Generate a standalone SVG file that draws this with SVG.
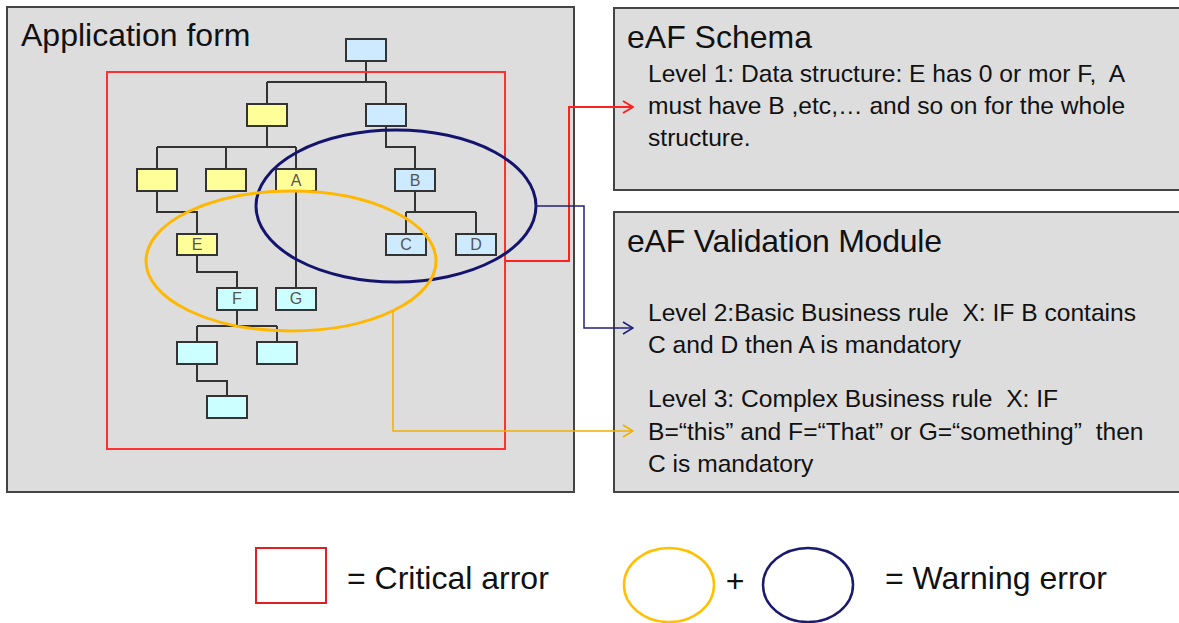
<svg xmlns="http://www.w3.org/2000/svg" width="1179" height="623" viewBox="0 0 1179 623">
<style>
text{white-space:pre}
.panel{fill:#dddddd;stroke:#444;stroke-width:2}
.title{font-family:"Liberation Sans",Arial,sans-serif;font-size:32px;fill:#111}
.body{font-family:"Liberation Sans",Arial,sans-serif;font-size:24.6px;fill:#111}
.nodeY{fill:#ffff99;stroke:#333;stroke-width:2}
.nodeB{fill:#cdeaff;stroke:#333;stroke-width:2}
.nodeC{fill:#ccffff;stroke:#333;stroke-width:2}
.lbl{font-family:"Liberation Sans",Arial,sans-serif;font-size:16px;fill:#555;text-anchor:middle}
.tree{fill:none;stroke:#333;stroke-width:2}
.legend{font-family:"Liberation Sans",Arial,sans-serif;font-size:32px;fill:#111}
</style>
<defs>
<marker id="arR" markerWidth="12" markerHeight="14" refX="11" refY="7" orient="auto" markerUnits="userSpaceOnUse"><path d="M1,1 L11,7 L1,13" fill="none" stroke="#ff2020" stroke-width="2"/></marker>
<marker id="arB" markerWidth="12" markerHeight="14" refX="11" refY="7" orient="auto" markerUnits="userSpaceOnUse"><path d="M1,1 L11,7 L1,13" fill="none" stroke="#20207a" stroke-width="1.6"/></marker>
<marker id="arY" markerWidth="12" markerHeight="14" refX="11" refY="7" orient="auto" markerUnits="userSpaceOnUse"><path d="M1,1 L11,7 L1,13" fill="none" stroke="#f0b000" stroke-width="1.6"/></marker>
</defs>
<rect width="1179" height="623" fill="#ffffff"/>

<g id="application-form">
<rect class="panel" x="7" y="7" width="567" height="485"/>
<text class="title" x="21" y="46">Application form</text>
</g>

<g id="eaf-schema">
<rect class="panel" x="614" y="8" width="580" height="182"/>
<text class="title" x="627" y="48">eAF Schema</text>
<text class="body" x="648" y="82">Level 1: Data structure: E has 0 or mor F,  A</text>
<text class="body" x="648" y="114">must have B ,etc,… and so on for the whole</text>
<text class="body" x="648" y="146">structure.</text>
</g>

<g id="eaf-validation">
<rect class="panel" x="614" y="212" width="580" height="280"/>
<text class="title" x="627" y="252" textLength="315">eAF Validation Module</text>
<text class="body" x="648" y="321">Level 2:Basic Business rule  X: IF B contains</text>
<text class="body" x="648" y="353">C and D then A is mandatory</text>
<text class="body" x="648" y="407">Level 3: Complex Business rule  X: IF</text>
<text class="body" x="648" y="440">B=“this” and F=“That” or G=“something”  then</text>
<text class="body" x="648" y="472">C is mandatory</text>
</g>

<g id="tree-lines">
<path class="tree" d="M366,61 V82 M267,82 H386 M267,82 V104 M386,82 V104"/>
<path class="tree" d="M267,126 V147 M157,147 H296 M157,147 V169 M226,147 V169 M296,147 V169"/>
<path class="tree" d="M386,126 V147 H415 V169"/>
<path class="tree" d="M415,191 V212 M406,212 H476 M406,212 V234 M476,212 V234"/>
<path class="tree" d="M157,191 V212 H197 V234"/>
<path class="tree" d="M296,191 V288"/>
<path class="tree" d="M197,255 V272 H237 V288"/>
<path class="tree" d="M237,310 V326 M197,326 H277 M197,326 V342 M277,326 V342"/>
<path class="tree" d="M197,364 V381 H227 V396"/>
</g>

<g id="node-root"><rect class="nodeB" x="346" y="39" width="40" height="22"/></g>
<g id="node-y1"><rect class="nodeY" x="247" y="104" width="40" height="22"/></g>
<g id="node-b1"><rect class="nodeB" x="366" y="104" width="40" height="22"/></g>
<g id="node-y2"><rect class="nodeY" x="137" y="169" width="40" height="22"/></g>
<g id="node-y3"><rect class="nodeY" x="206" y="169" width="40" height="22"/></g>
<g id="node-A"><rect class="nodeY" x="276" y="169" width="40" height="22"/><text class="lbl" x="296" y="186">A</text></g>
<g id="node-B"><rect class="nodeB" x="395" y="169" width="40" height="22"/><text class="lbl" x="415" y="186">B</text></g>
<g id="node-C"><rect class="nodeB" x="386" y="234" width="40" height="21"/><text class="lbl" x="406" y="250">C</text></g>
<g id="node-D"><rect class="nodeB" x="456" y="234" width="40" height="21"/><text class="lbl" x="476" y="250">D</text></g>
<g id="node-E"><rect class="nodeY" x="177" y="234" width="40" height="21"/><text class="lbl" x="197" y="250">E</text></g>
<g id="node-F"><rect class="nodeC" x="217" y="288" width="40" height="22"/><text class="lbl" x="237" y="304">F</text></g>
<g id="node-G"><rect class="nodeC" x="276" y="288" width="40" height="22"/><text class="lbl" x="296" y="304">G</text></g>
<g id="node-c1"><rect class="nodeC" x="177" y="342" width="40" height="22"/></g>
<g id="node-c2"><rect class="nodeC" x="257" y="342" width="40" height="22"/></g>
<g id="node-c3"><rect class="nodeC" x="207" y="396" width="40" height="22"/></g>

<g id="critical-region"><rect x="107" y="72" width="398" height="377" fill="none" stroke="#ff3030" stroke-width="2"/></g>
<g id="warning-blue"><ellipse cx="396" cy="206" rx="140" ry="76" fill="none" stroke="#14146e" stroke-width="3"/></g>
<g id="warning-yellow"><ellipse cx="291" cy="261" rx="145" ry="70" fill="none" stroke="#ffb800" stroke-width="3"/></g>

<g id="connectors">
<path d="M505,261 H569 V107 H633" fill="none" stroke="#ff2020" stroke-width="2" marker-end="url(#arR)"/>
<path d="M536,206 H584 V328 H633" fill="none" stroke="#20207a" stroke-width="1.5" marker-end="url(#arB)"/>
<path d="M393,311 V431 H633" fill="none" stroke="#f0b000" stroke-width="1.5" marker-end="url(#arY)"/>
</g>

<g id="legend">
<rect x="256" y="548" width="70" height="55" fill="none" stroke="#e02020" stroke-width="2"/>
<text class="legend" x="347" y="589">= Critical arror</text>
<ellipse cx="669" cy="585" rx="45" ry="37" fill="none" stroke="#ffc000" stroke-width="2.5"/>
<text class="legend" x="735" y="592" font-size="20" text-anchor="middle">+</text>
<ellipse cx="808" cy="585" rx="45" ry="37" fill="none" stroke="#1a1a6e" stroke-width="2.5"/>
<text class="legend" x="885" y="589">= Warning error</text>
</g>
</svg>
